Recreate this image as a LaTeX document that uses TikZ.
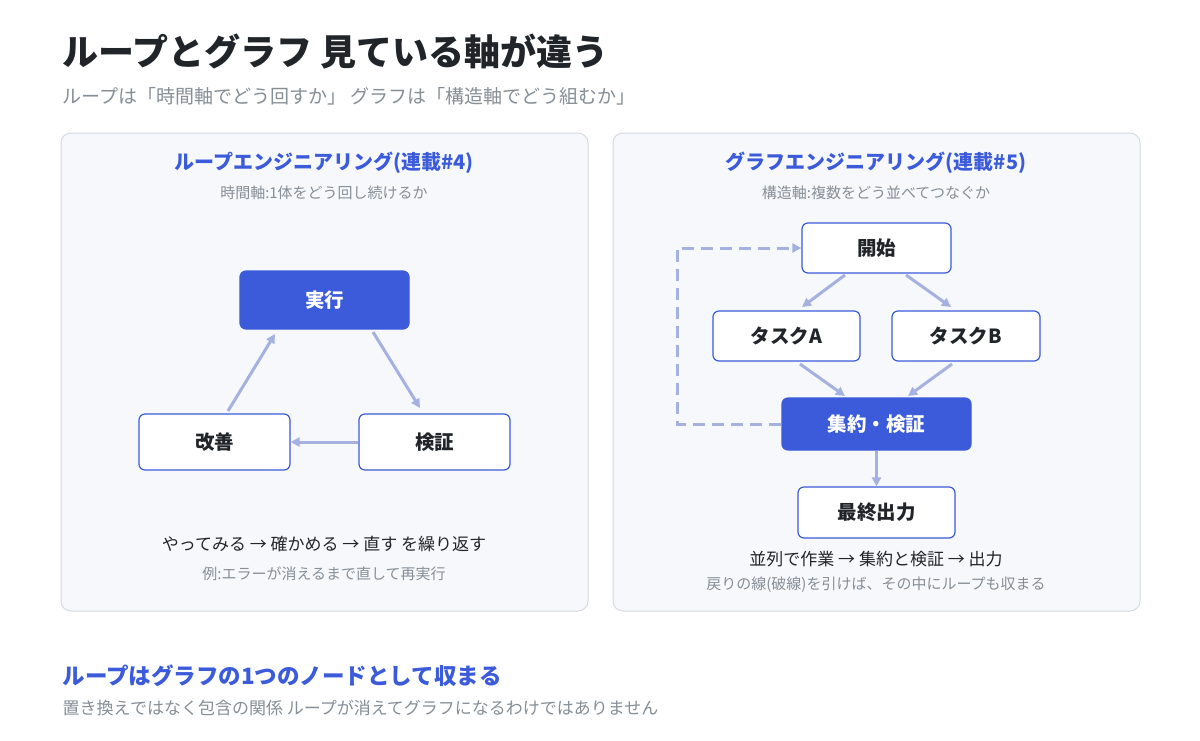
\documentclass[tikz,border=0pt]{standalone}
\usepackage{fontspec}
\setmainfont{Noto Sans CJK JP}
\usetikzlibrary{arrows.meta}
\definecolor{mainblue}{HTML}{3B5BDB}
\definecolor{arrowc}{HTML}{A5B1E0}
\definecolor{panelbg}{HTML}{F7F8FC}
\definecolor{panelline}{HTML}{D5D9E3}
\definecolor{ink}{HTML}{212529}
\definecolor{greyt}{HTML}{868E96}
\begin{document}
\begin{tikzpicture}
		[x=1pt,y=-1pt,
		box/.style={draw=mainblue,line width=1.2pt,fill=white,rounded corners=6pt,font=\fontsize{19.5}{22}\selectfont\bfseries,text=ink},
		hot/.style={box,fill=mainblue,text=white},
		panel/.style={draw=panelline,line width=1pt,fill=panelbg,rounded corners=10pt},
		flow/.style={draw=arrowc,line width=3pt,-{Triangle[length=9pt,width=9pt]}},
		ptitle/.style={text=mainblue,font=\fontsize{20}{24}\selectfont\bfseries},
		note/.style={text=greyt,font=\fontsize{15}{18}\selectfont}]
		\useasboundingbox (0,0) rectangle (1200,740);
		\fill[white] (0,0) rectangle (1200,740);
		% header
		\node[anchor=west,text=ink,font=\fontsize{36}{40}\selectfont\bfseries] (head) at (59,52) {ループとグラフ 見ている軸が違う};
		\node[anchor=west,text=greyt,font=\fontsize{19}{22}\selectfont] (sub) at (59,96) {ループは「時間軸でどう回すか」 グラフは「構造軸でどう組むか」};
		% panels
		\draw[panel] (61,133) rectangle (588,611);
		\draw[panel] (613,133) rectangle (1140,611);
		% loop panel
		\node[ptitle] (lt) at (324,163) {ループエンジニアリング(連載\#4)};
		\node[note] (ls) at (324,193) {時間軸:1体をどう回し続けるか};
		\node[hot,minimum width=169pt,minimum height=58pt] (run) at (324.5,300) {実行};
		\node[box,minimum width=151pt,minimum height=56pt] (fix) at (214.5,442) {改善};
		\node[box,minimum width=151pt,minimum height=56pt] (chk) at (434.5,442) {検証};
		\draw[flow] (373,332) -- (420,408);
		\draw[flow] (chk) -- (fix);
		\draw[flow] (228,411) -- (275,334);
		\node[text=ink,font=\fontsize{17}{20}\selectfont] (lc) at (324,544) {やってみる → 確かめる → 直す を繰り返す};
		\node[note] (ln) at (324,574) {例:エラーが消えるまで直して再実行};
		% graph panel
		\node[ptitle] (gt) at (876,163) {グラフエンジニアリング(連載\#5)};
		\node[note] (gs) at (876,193) {構造軸:複数をどう並べてつなぐか};
		\node[box,minimum width=149pt,minimum height=50pt] (start) at (876.5,248) {開始};
		\node[box,minimum width=147pt,minimum height=50pt] (ta) at (786.5,336) {タスクA};
		\node[box,minimum width=148pt,minimum height=50pt] (tb) at (966,336) {タスクB};
		\node[hot,minimum width=189pt,minimum height=52pt] (agg) at (876.5,424) {集約・検証};
		\node[box,minimum width=157pt,minimum height=51pt] (out) at (876.5,512.5) {最終出力};
		\draw[flow] (845,275) -- (802,307);
		\draw[flow] (906,275) -- (951,307);
		\draw[flow] (800,364) -- (845,396);
		\draw[flow] (952,364) -- (908,396);
		\draw[flow] (agg) -- (out);
		\coordinate (bl) at (677,424);
		\coordinate (tl) at (677,248);
		\draw[flow,dashed,dash pattern=on 12pt off 7pt] (agg.west) -- (bl) -- (tl) -- (start.west);
		\node[text=ink,font=\fontsize{17}{20}\selectfont] (gc) at (876,559) {並列で作業 → 集約と検証 → 出力};
		\node[note] (gn) at (876,585) {戻りの線(破線)を引けば、その中にループも収まる};
		% footer
		\node[anchor=west,text=mainblue,font=\fontsize{22.5}{26}\selectfont\bfseries] (foot) at (59,676) {ループはグラフの1つのノードとして収まる};
		\node[anchor=west,text=greyt,font=\fontsize{17}{20}\selectfont] (fn) at (59,708) {置き換えではなく包含の関係 ループが消えてグラフになるわけではありません};
	\end{tikzpicture}
\end{document}
